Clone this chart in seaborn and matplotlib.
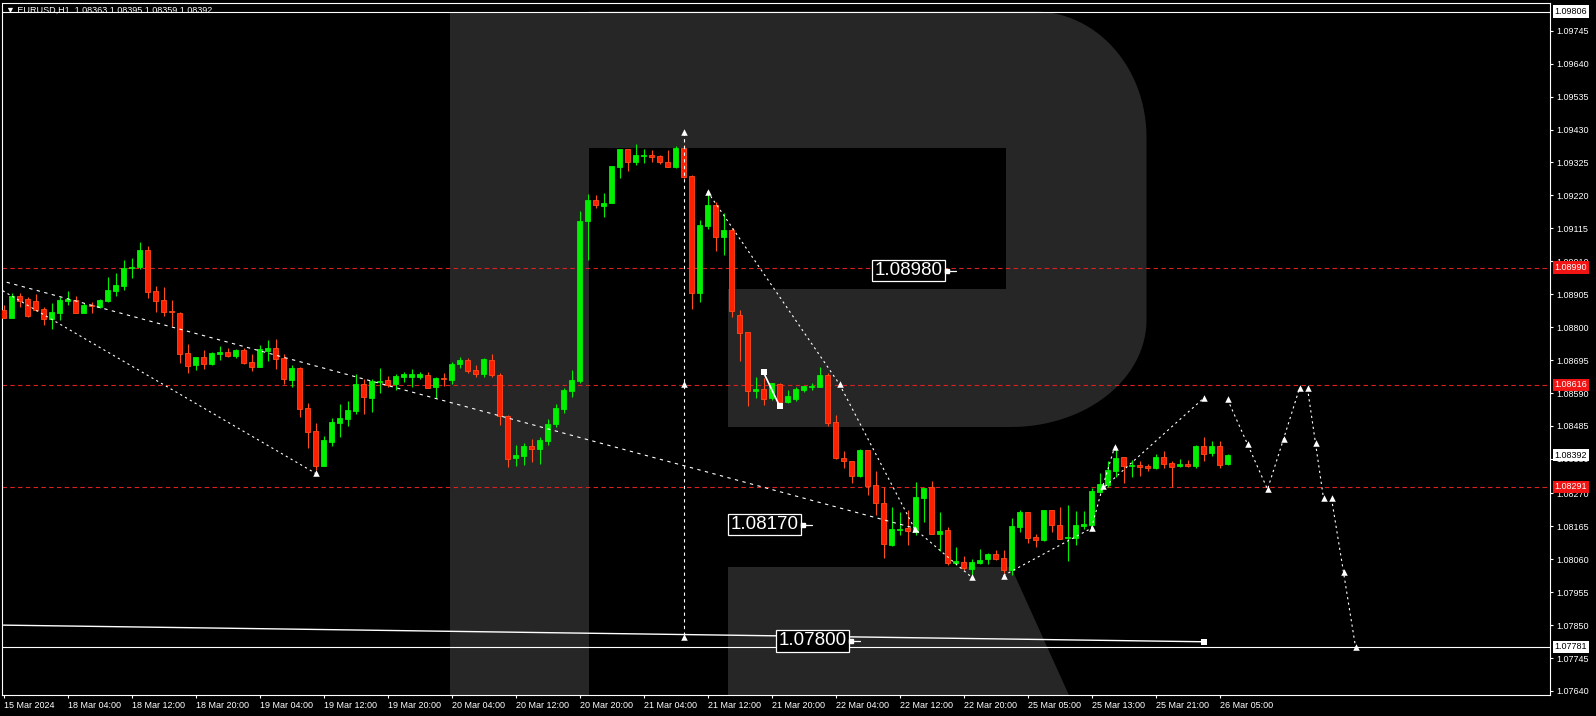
import numpy as np
import pandas as pd
import matplotlib
matplotlib.use("Agg")
import matplotlib.pyplot as plt
import seaborn as sns
from matplotlib.patches import Polygon, Rectangle

# ---------------- data ----------------
opens = [1.08855,1.08830,1.08899,1.08889,1.08882,1.08857,1.08825,1.08846,1.08884,1.08886,
         1.08846,1.08871,1.08864,1.08883,1.08916,1.08932,1.08989,1.08993,1.09045,1.08914,
         1.08886,1.08852,1.08845,1.08717,1.08679,1.08704,1.08683,1.08715,1.08720,1.08708,
         1.08727,1.08689,1.08674,1.08724,1.08733,1.08702,1.08632,1.08670,1.08542,1.08469,
         1.08358,1.08434,1.08494,1.08507,1.08533,1.08619,1.08575,1.08625,1.08632,1.08619,
         1.08642,1.08642,1.08642,1.08647,1.08610,1.08639,1.08632,1.08683,1.08695,1.08663,
         1.08651,1.08695,1.08648,1.08517,1.08384,1.08389,1.08421,1.08412,1.08438,1.08491,
         1.08539,1.08597,1.08629,1.09139,1.09205,1.09186,1.09197,1.09312,1.09368,1.09328,
         1.09347,1.09350,1.09346,1.09326,1.09312,1.09370,1.09281,1.08910,1.09124,1.09190,
         1.09088,1.09110,1.08839,1.08785,1.08597,1.08602,1.08573,1.08619,1.08562,1.08571,
         1.08600,1.08610,1.08610,1.08647,1.08498,1.08383,1.08373,1.08325,1.08408,1.08296,
         1.08239,1.08106,1.08153,1.08160,1.08148,1.08256,1.08290,1.08142,1.08153,1.08048,
         1.08051,1.08030,1.08047,1.08061,1.08077,1.08063,1.08026,1.08164,1.08210,1.08131,
         1.08122,1.08217,1.08169,1.08127,1.08129,1.08167,1.08168,1.08275,1.08297,1.08342,
         1.08385,1.08357,1.08360,1.08357,1.08352,1.08386,1.08366,1.08358,1.08364,1.08357,
         1.08421,1.08400,1.08421,1.08363]
highs = [1.08871,1.08908,1.08909,1.08896,1.08905,1.08865,1.08877,1.08896,1.08914,1.08899,
         1.08876,1.08879,1.08889,1.08959,1.08973,1.09014,1.09020,1.09070,1.09060,1.08931,
         1.08927,1.08887,1.08848,1.08745,1.08705,1.08727,1.08720,1.08740,1.08733,1.08729,
         1.08735,1.08714,1.08743,1.08759,1.08762,1.08714,1.08678,1.08672,1.08557,1.08494,
         1.08453,1.08510,1.08555,1.08565,1.08651,1.08634,1.08635,1.08670,1.08644,1.08651,
         1.08658,1.08667,1.08656,1.08656,1.08642,1.08653,1.08688,1.08705,1.08701,1.08679,
         1.08703,1.08714,1.08653,1.08519,1.08424,1.08432,1.08443,1.08451,1.08507,1.08554,
         1.08606,1.08663,1.09170,1.09225,1.09221,1.09227,1.09314,1.09368,1.09368,1.09384,
         1.09368,1.09365,1.09350,1.09365,1.09378,1.09381,1.09285,1.09142,1.09228,1.09200,
         1.09163,1.09115,1.08855,1.08785,1.08641,1.08638,1.08621,1.08621,1.08600,1.08610,
         1.08613,1.08623,1.08674,1.08653,1.08520,1.08405,1.08373,1.08412,1.08408,1.08342,
         1.08290,1.08228,1.08211,1.08217,1.08306,1.08287,1.08310,1.08211,1.08164,1.08100,
         1.08071,1.08060,1.08093,1.08080,1.08090,1.08090,1.08191,1.08217,1.08210,1.08140,
         1.08217,1.08217,1.08225,1.08233,1.08213,1.08213,1.08286,1.08334,1.08373,1.08414,
         1.08385,1.08376,1.08373,1.08364,1.08396,1.08405,1.08373,1.08380,1.08376,1.08424,
         1.08450,1.08437,1.08437,1.08395]
lows = [1.08829,1.08830,1.08865,1.08833,1.08852,1.08807,1.08794,1.08823,1.08871,1.08846,
        1.08844,1.08846,1.08860,1.08880,1.08900,1.08918,1.08958,1.08985,1.08892,1.08849,
        1.08836,1.08805,1.08685,1.08653,1.08664,1.08668,1.08680,1.08695,1.08706,1.08703,
        1.08684,1.08660,1.08673,1.08693,1.08668,1.08620,1.08610,1.08513,1.08414,1.08345,
        1.08357,1.08422,1.08451,1.08486,1.08524,1.08524,1.08531,1.08591,1.08608,1.08600,
        1.08624,1.08610,1.08635,1.08607,1.08573,1.08613,1.08619,1.08670,1.08654,1.08642,
        1.08642,1.08642,1.08488,1.08355,1.08357,1.08361,1.08369,1.08364,1.08424,1.08481,
        1.08525,1.08578,1.08621,1.09014,1.09180,1.09152,1.09197,1.09277,1.09299,1.09318,
        1.09322,1.09328,1.09321,1.09312,1.09306,1.09276,1.08858,1.08881,1.09113,1.09044,
        1.09031,1.08833,1.08693,1.08550,1.08573,1.08552,1.08568,1.08557,1.08559,1.08566,
        1.08594,1.08600,1.08610,1.08485,1.08380,1.08352,1.08304,1.08322,1.08265,1.08201,
        1.08065,1.08102,1.08137,1.08106,1.08137,1.08180,1.08141,1.08086,1.08042,1.08042,
        1.08026,1.08010,1.08044,1.08044,1.08058,1.08015,1.08010,1.08147,1.08111,1.08098,
        1.08119,1.08148,1.08126,1.08055,1.08106,1.08156,1.08151,1.08270,1.08291,1.08323,
        1.08304,1.08323,1.08327,1.08342,1.08347,1.08350,1.08290,1.08355,1.08355,1.08352,
        1.08373,1.08389,1.08352,1.08359]
closes = [1.08830,1.08899,1.08884,1.08836,1.08856,1.08825,1.08847,1.08887,1.08889,1.08846,
          1.08870,1.08866,1.08886,1.08918,1.08934,1.08989,1.08993,1.09045,1.08913,1.08884,
          1.08849,1.08847,1.08715,1.08677,1.08704,1.08684,1.08718,1.08722,1.08708,1.08727,
          1.08687,1.08674,1.08729,1.08734,1.08700,1.08636,1.08670,1.08540,1.08467,1.08358,
          1.08440,1.08498,1.08510,1.08536,1.08619,1.08578,1.08628,1.08628,1.08615,1.08644,
          1.08650,1.08650,1.08650,1.08607,1.08638,1.08635,1.08683,1.08696,1.08661,1.08652,
          1.08698,1.08648,1.08517,1.08381,1.08393,1.08421,1.08413,1.08439,1.08491,1.08543,
          1.08600,1.08632,1.09139,1.09205,1.09190,1.09197,1.09314,1.09368,1.09328,1.09349,
          1.09350,1.09343,1.09328,1.09312,1.09371,1.09280,1.08910,1.09125,1.09190,1.09088,
          1.09110,1.08852,1.08780,1.08597,1.08604,1.08570,1.08621,1.08562,1.08581,1.08602,
          1.08613,1.08613,1.08647,1.08495,1.08384,1.08372,1.08327,1.08409,1.08294,1.08240,
          1.08108,1.08156,1.08157,1.08151,1.08258,1.08287,1.08141,1.08150,1.08049,1.08055,
          1.08033,1.08051,1.08058,1.08077,1.08062,1.08026,1.08166,1.08211,1.08129,1.08122,
          1.08217,1.08168,1.08126,1.08132,1.08168,1.08172,1.08278,1.08300,1.08345,1.08382,
          1.08358,1.08362,1.08355,1.08350,1.08386,1.08365,1.08355,1.08364,1.08357,1.08421,
          1.08397,1.08421,1.08361,1.08392]

time_labels = ["15 Mar 2024", "18 Mar 04:00", "18 Mar 12:00", "18 Mar 20:00", "19 Mar 04:00",
               "19 Mar 12:00", "19 Mar 20:00", "20 Mar 04:00", "20 Mar 12:00", "20 Mar 20:00",
               "21 Mar 04:00", "21 Mar 12:00", "21 Mar 20:00", "22 Mar 04:00", "22 Mar 12:00",
               "22 Mar 20:00", "25 Mar 05:00", "25 Mar 13:00", "25 Mar 21:00", "26 Mar 05:00"]
label_step = 8

price_ticks = [1.09745, 1.09640, 1.09535, 1.09430, 1.09325, 1.09220, 1.09115, 1.09010,
               1.08905, 1.08800, 1.08695, 1.08590, 1.08485, 1.08380, 1.08270, 1.08165,
               1.08060, 1.07955, 1.07850, 1.07745, 1.07640]

red_levels = [1.08990, 1.08616, 1.08291]
white_levels = [1.09806, 1.07781]
bid_price = 1.08392

header = "\u25bc EURUSD,H1  1.08363 1.08395 1.08359 1.08392"

# drawn analysis objects (bar index, price)
line_a = ([-0.1, 39.0], [1.08916, 1.08334])
line_b = ([0.4, 113.6], [1.08943, 1.08161])
line_c = ([85.0, 85.0], [1.09422, 1.07812])
line_d = ([88.0, 104.5, 113.9, 121.0], [1.09232, 1.08618, 1.08157, 1.08003])
line_e = ([95.0, 97.0], [1.08656, 1.08549])
line_f = ([125.0, 136.0, 137.4, 138.9], [1.08008, 1.08159, 1.08292, 1.08419])
line_g = ([137.7, 150.0], [1.08292, 1.08573])
line_h = ([153.0, 155.5, 158.0, 160.0, 162.0], [1.08570, 1.08427, 1.08283, 1.08443, 1.08605])
line_i = ([163.0, 164.0, 165.0], [1.08605, 1.08430, 1.08254])
line_j = ([166.0, 167.5, 169.0], [1.08254, 1.08019, 1.07781])
line_k = ([0.0, 150.0], [1.07850, 1.07797])

marker_x = [39.0, 85.0, 85.0, 85.0, 88.0, 104.5, 113.9, 121.0, 125.0, 136.0, 137.4, 138.9,
            150.0, 153.0, 155.5, 158.0, 160.0, 162.0, 163.0, 164.0, 165.0, 166.0, 167.5, 169.0]
marker_y = [1.08334, 1.09422, 1.08618, 1.07812, 1.09232, 1.08618, 1.08157, 1.08003, 1.08008,
            1.08159, 1.08292, 1.08419, 1.08573, 1.08570, 1.08427, 1.08283, 1.08443, 1.08605,
            1.08605, 1.08430, 1.08254, 1.08254, 1.08019, 1.07781]

price_boxes = [("1.08980", 113.1, 1.08980), ("1.08170", 95.1, 1.08170), ("1.07800", 101.1, 1.07800)]

# ---------------- style ----------------
W, H = 1596, 716
sns.set_style("dark", {"axes.facecolor": "black", "figure.facecolor": "black"})
plt.rcParams["font.family"] = ["Liberation Sans", "DejaVu Sans"]

GREEN = "#00f000"
RED_BODY = "#ff1f00"
RED_EDGE = "#ff4d1a"
RED_LINE = "#dd2020"
RED_BOX = "#f01414"
WM = "#262626"

fig = plt.figure(figsize=(W / 100, H / 100), dpi=100)
fig.patch.set_facecolor("black")
ax_left, ax_right, ax_top, ax_bot = 2, 1550, 3, 695.3
ax = fig.add_axes([ax_left / W, (H - ax_bot) / H, (ax_right - ax_left) / W, (ax_bot - ax_top) / H])
ax.set_facecolor("black")
ax.grid(False)

def fx(px):
    return px / W

def fy(py):
    return 1 - py / H

# watermark logo (figure pixel geometry)
tr = fig.transFigure
def poly(pts, **kw):
    p = Polygon([(fx(x), fy(y)) for x, y in pts], closed=True, transform=tr,
                facecolor=WM, edgecolor="none", zorder=0.2, **kw)
    ax.add_patch(p)

poly([(450, 11.5), (589, 11.5), (589, ax_bot), (450, ax_bot)])
t1 = np.linspace(np.pi / 2, 0, 30)
arc1 = [(1035 + 111.5 * np.cos(t), 137 - 125.5 * np.sin(t)) for t in t1]
t2 = np.linspace(0, -np.pi / 2, 30)
arc2 = [(1011 + 135.5 * np.cos(t), 320 - 107 * np.sin(t)) for t in t2]
bowl = [(589, 11.5)] + arc1 + arc2 + [(728, 427), (728, 289), (1006, 289), (1006, 148), (589, 148)]
poly(bowl)
poly([(728, 567), (1011, 567), (1069, ax_bot), (728, ax_bot)])

# horizontal levels
for lv in white_levels:
    ax.axhline(lv, color="white", lw=0.8, zorder=2)
for lv in red_levels:
    ax.axhline(lv, color=RED_LINE, lw=0.8, linestyle=(0, (4, 3)), zorder=2)

# candles
O = np.array(opens); Hh = np.array(highs); L = np.array(lows); C = np.array(closes)
idx = np.arange(len(O))
up = C >= O
wick_col = np.where(up, GREEN, RED_EDGE)
ax.vlines(idx, L, Hh, colors=wick_col, lw=0.8, zorder=3)
body_h = np.maximum(np.abs(C - O), 0.000005)
ax.bar(idx, body_h, bottom=np.minimum(O, C), width=0.55,
       color=np.where(up, GREEN, RED_BODY), edgecolor=np.where(up, GREEN, RED_EDGE),
       linewidth=0.6, zorder=3)

# drawings
def draw(line, ls, lw=0.8):
    df = pd.DataFrame({"x": line[0], "y": line[1]})
    sns.lineplot(data=df, x="x", y="y", ax=ax, color="white", lw=lw, linestyle=ls,
                 sort=False, estimator=None, zorder=4)

draw(line_a, (0, (2, 3)))
draw(line_b, (0, (3, 4)))
draw(line_c, (0, (3, 3)))
draw(line_d, (0, (2, 3)))
draw(line_e, "-", lw=1.2)
for ln in (line_f, line_g, line_h, line_i, line_j):
    draw(ln, (0, (2, 3)))
draw(line_k, "-", lw=1.0)

sns.scatterplot(x=marker_x, y=marker_y, ax=ax, marker="^", s=22, color="white",
                linewidth=0, zorder=5)
sns.scatterplot(x=[line_e[0][0], line_e[0][1], line_k[0][1]],
                y=[line_e[1][0], line_e[1][1], line_k[1][1]],
                ax=ax, marker="s", s=14, color="white", linewidth=0, zorder=5)

for txt, xi, pr in price_boxes:
    ax.text(xi, pr, txt, color="white", fontsize=13.5, ha="center", va="center", zorder=6,
            bbox=dict(boxstyle="square,pad=0.12", fc="black", ec="white", lw=0.9))
    ax.plot([xi + 4.6, xi + 5.9], [pr, pr], color="white", lw=0.9, zorder=6)
    ax.plot([xi + 4.8], [pr], marker="s", ms=2.2, color="white", zorder=6)

# axes ranges
def px_to_idx(px):
    return (px - 3.5) / 8.0

def py_to_price(py):
    return 1.098429 - 0.00003188 * py

ax.set_xlim(px_to_idx(ax_left), px_to_idx(ax_right))
ax.set_ylim(py_to_price(ax_bot), py_to_price(ax_top))

for s in ax.spines.values():
    s.set_color("white")
    s.set_linewidth(0.8)
    s.set_visible(True)

ax.set_xlabel("")
ax.set_ylabel("")
ax.set_xticks(np.arange(len(time_labels)) * label_step)
ax.set_xticklabels(time_labels)
for lab in ax.get_xticklabels():
    lab.set_ha("left")
ax.tick_params(axis="x", direction="out", length=2.3, width=0.8, colors="white",
               labelsize=6.5, pad=1.5, bottom=True)

ax.yaxis.tick_right()
ax.set_yticks(price_ticks)
ax.set_yticklabels([f"{v:.5f}" for v in price_ticks])
ax.tick_params(axis="y", direction="out", length=2.3, width=0.8, colors="white",
               labelsize=6.5, pad=2.5, right=True, left=False)

def side_label(val, fc, tc):
    ax.annotate(f"{val:.5f}", xy=(1.0, val), xycoords=("axes fraction", "data"),
                xytext=(3.2, 0), textcoords="offset points", ha="left", va="center",
                fontsize=6.5, color=tc, annotation_clip=False, zorder=10,
                bbox=dict(boxstyle="square,pad=0.18", fc=fc, ec=fc, lw=0))

for lv in red_levels:
    side_label(lv, RED_BOX, "white")
for lv in white_levels:
    side_label(lv, "white", "black")
side_label(bid_price, "white", "black")

fig.text(fx(6), fy(10), header, color="white", fontsize=6.5, ha="left", va="center",
         family=["Liberation Sans", "DejaVu Sans"])

fig.savefig("out.png", dpi=100, facecolor="black")
